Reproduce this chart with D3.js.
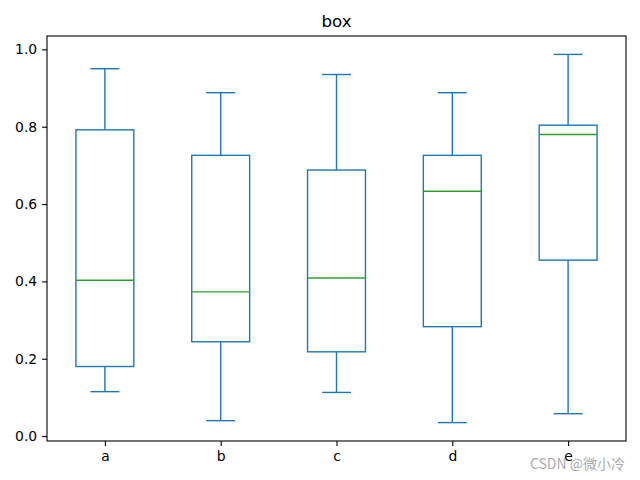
<!DOCTYPE html>
<html><head><meta charset="utf-8">
<script src="https://cdn.jsdelivr.net/npm/d3@7"></script>
<style>body{margin:0;background:#fff}svg{display:block}</style>
</head><body>
<svg id="c" width="640" height="480"></svg>
<script>
const categories = ["a","b","c","d","e"];
const whiskerLow = [0.115, 0.040, 0.113, 0.035, 0.058];
const q1 = [0.180, 0.244, 0.218, 0.283, 0.455];
const median = [0.403, 0.373, 0.409, 0.633, 0.780];
const q3 = [0.792, 0.726, 0.688, 0.726, 0.804];
const whiskerHigh = [0.950, 0.888, 0.935, 0.888, 0.987];
const yTicks = [0.0, 0.2, 0.4, 0.6, 0.8, 1.0];

const svg = d3.select("#c");
const L = 47, R = 626, T = 36, B = 441;
const x = d3.scaleLinear().domain([0.5, 5.5]).range([L, R]);
const y = d3.scaleLinear().domain([-0.0126, 1.0346]).range([B, T]);
const font = "DejaVu Sans, sans-serif";
const blue = "#1f77b4", green = "#2ca02c";

const g = svg.append("g");
categories.forEach((c, i) => {
  const p = i + 1;
  const bw = x(p + 0.25) - x(p - 0.25);
  const cw = x(p + 0.125) - x(p - 0.125);
  // whiskers
  g.append("line").attr("x1", x(p)).attr("x2", x(p)).attr("y1", y(whiskerLow[i])).attr("y2", y(q1[i])).attr("stroke", blue).attr("stroke-width", 1.4);
  g.append("line").attr("x1", x(p)).attr("x2", x(p)).attr("y1", y(q3[i])).attr("y2", y(whiskerHigh[i])).attr("stroke", blue).attr("stroke-width", 1.4);
  // caps
  g.append("line").attr("x1", x(p) - cw/2).attr("x2", x(p) + cw/2).attr("y1", y(whiskerLow[i])).attr("y2", y(whiskerLow[i])).attr("stroke", blue).attr("stroke-width", 1.4);
  g.append("line").attr("x1", x(p) - cw/2).attr("x2", x(p) + cw/2).attr("y1", y(whiskerHigh[i])).attr("y2", y(whiskerHigh[i])).attr("stroke", blue).attr("stroke-width", 1.4);
  // box
  g.append("rect").attr("x", x(p) - bw/2).attr("width", bw).attr("y", y(q3[i])).attr("height", y(q1[i]) - y(q3[i])).attr("fill", "none").attr("stroke", blue).attr("stroke-width", 1.4);
  // median
  g.append("line").attr("x1", x(p) - bw/2).attr("x2", x(p) + bw/2).attr("y1", y(median[i])).attr("y2", y(median[i])).attr("stroke", green).attr("stroke-width", 1.4);
});

// axes
const xAxis = d3.axisBottom(x).tickValues([1,2,3,4,5]).tickFormat(d => categories[d-1]).tickSize(4.9).tickPadding(4.9);
const yAxis = d3.axisLeft(y).tickValues(yTicks).tickFormat(d3.format(".1f")).tickSize(4.9).tickPadding(4.9);
const gx = svg.append("g").attr("transform", `translate(0,${B})`).call(xAxis);
const gy = svg.append("g").attr("transform", `translate(${L},0)`).call(yAxis);
[gx, gy].forEach(a => {
  a.select(".domain").remove();
  a.selectAll(".tick line").attr("stroke", "#000").attr("stroke-width", 1.1);
  a.selectAll("text").attr("font-family", font).attr("font-size", 13.9).attr("fill", "#000");
});
svg.append("rect").attr("x", L).attr("y", T).attr("width", R - L).attr("height", B - T).attr("fill", "none").attr("stroke", "#000").attr("stroke-width", 1.1);

svg.append("text").attr("x", (L + R) / 2).attr("y", 27).attr("text-anchor", "middle").attr("font-family", font).attr("font-size", 16.7).text("box");

svg.append("text").attr("x", 625).attr("y", 469).attr("text-anchor", "end").attr("font-family", "Noto Sans CJK SC, sans-serif").attr("font-size", 14).attr("fill", "#999").attr("fill-opacity", 0.85).text("CSDN @微小冷");
</script>
</body></html>
